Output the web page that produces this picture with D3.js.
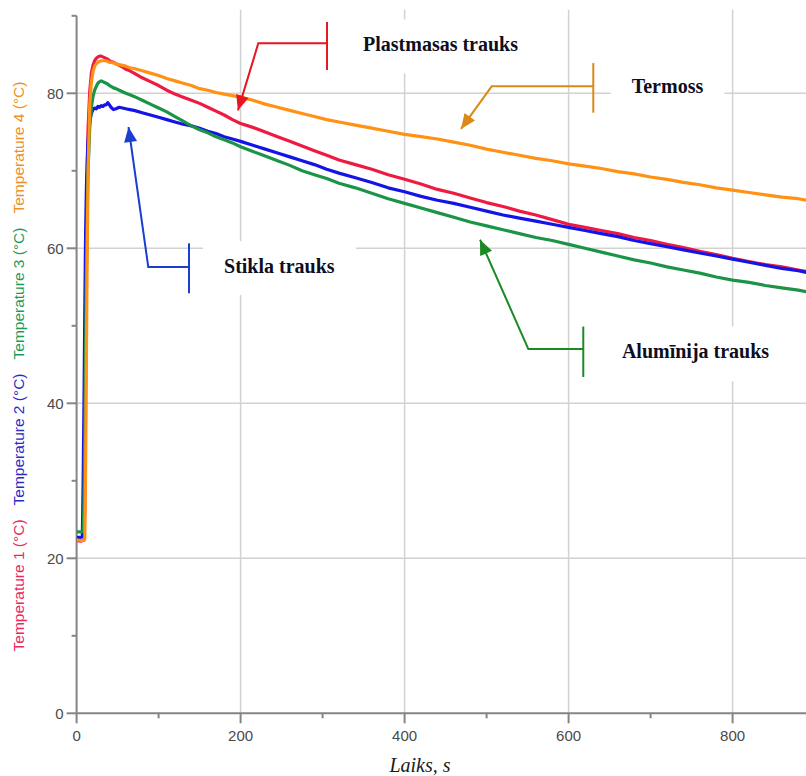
<!DOCTYPE html>
<html>
<head>
<meta charset="utf-8">
<script src="https://cdn.jsdelivr.net/npm/d3@7/dist/d3.min.js"></script>
<style>
  html, body { margin: 0; padding: 0; background: #ffffff; }
  svg { display: block; }
</style>
</head>
<body>
<div id="chart"></div>
<script>
// Sample times, s
const times = [0, 5, 7, 8, 9, 10, 11, 12, 13, 14, 16, 18, 20, 22, 24, 26, 28, 30, 32, 34,
  36, 38, 40, 42, 45, 48, 52, 56, 60, 65, 70, 80, 90, 100, 110, 120, 130, 140, 150, 160,
  170, 180, 190, 200, 215, 230, 245, 260, 275, 290, 305, 320, 340, 360, 380, 400, 420, 440, 460, 480,
  500, 520, 540, 560, 580, 600, 620, 640, 660, 680, 700, 720, 740, 760, 780, 800, 820, 840, 860, 880, 890];

// Temperature 1 (°C) – Plastmasas trauks
const temp1 = [22.3, 22.2, 22.3, 22.3, 22.4, 26, 40, 58, 70, 75.5, 80.2, 82.6, 83.6, 84.2, 84.5, 84.7, 84.8, 84.8, 84.7, 84.6,
  84.5, 84.4, 84.2, 84.1, 84.0, 83.8, 83.6, 83.4, 83.1, 82.9, 82.6, 82.0, 81.5, 81.0, 80.4, 79.9, 79.5, 79.1, 78.7, 78.2,
  77.7, 77.2, 76.6, 76.1, 75.6, 75.0, 74.4, 73.8, 73.2, 72.6, 72.0, 71.4, 70.8, 70.2, 69.5, 68.9, 68.3, 67.6, 67.1, 66.5,
  65.9, 65.4, 64.8, 64.3, 63.7, 63.1, 62.7, 62.3, 61.9, 61.4, 61.0, 60.5, 60.1, 59.6, 59.2, 58.7, 58.3, 57.9, 57.6, 57.2, 57.0];

// Temperature 2 (°C) – Stikla trauks
const temp2 = [22.7, 22.7, 22.8, 30, 40, 52, 62, 68, 71.5, 74, 76.4, 77.4, 77.9, 78.1, 78.0, 78.3, 78.2, 78.4, 78.3, 78.5,
  78.5, 78.8, 78.5, 78.2, 77.9, 78.0, 78.2, 78.1, 78.0, 77.9, 77.8, 77.5, 77.2, 76.9, 76.6, 76.3, 76.0, 75.8, 75.5, 75.1,
  74.8, 74.4, 74.1, 73.8, 73.3, 72.8, 72.3, 71.8, 71.3, 70.8, 70.2, 69.7, 69.1, 68.5, 67.8, 67.3, 66.7, 66.2, 65.8, 65.3,
  64.8, 64.3, 63.9, 63.5, 63.1, 62.7, 62.3, 61.9, 61.5, 61.0, 60.6, 60.2, 59.8, 59.4, 59.0, 58.6, 58.2, 57.8, 57.4, 57.1, 56.9];

// Temperature 3 (°C) – Alumīnija trauks
const temp3 = [23.4, 23.4, 23.4, 23.5, 27, 36, 47, 57, 65, 70, 75.5, 78.2, 79.6, 80.4, 80.9, 81.3, 81.5, 81.6, 81.5, 81.4,
  81.3, 81.2, 81.0, 80.9, 80.7, 80.6, 80.4, 80.2, 80.0, 79.8, 79.6, 79.1, 78.6, 78.1, 77.6, 77.0, 76.4, 75.8, 75.3, 74.9,
  74.4, 74.0, 73.6, 73.1, 72.5, 71.9, 71.3, 70.7, 70.0, 69.5, 69.0, 68.4, 67.8, 67.1, 66.4, 65.8, 65.2, 64.6, 64.0, 63.4,
  62.9, 62.4, 61.9, 61.4, 61.0, 60.5, 60.0, 59.5, 59.0, 58.5, 58.1, 57.6, 57.2, 56.8, 56.3, 55.9, 55.6, 55.2, 54.9, 54.6, 54.4];

// Temperature 4 (°C) – Termoss
const temp4 = [22.4, 22.3, 22.3, 22.3, 22.3, 22.5, 32, 47, 60, 70, 78.5, 81.4, 82.8, 83.5, 83.8, 84.0, 84.1, 84.2, 84.2, 84.2,
  84.2, 84.1, 84.0, 84.0, 83.9, 83.8, 83.7, 83.6, 83.5, 83.3, 83.2, 82.9, 82.6, 82.3, 81.9, 81.6, 81.3, 81.0, 80.6, 80.4,
  80.1, 79.9, 79.7, 79.5, 79.1, 78.6, 78.2, 77.8, 77.4, 77.0, 76.6, 76.3, 75.9, 75.5, 75.1, 74.7, 74.4, 74.1, 73.7, 73.3,
  72.8, 72.4, 72.0, 71.6, 71.3, 70.9, 70.6, 70.3, 69.9, 69.6, 69.2, 68.9, 68.5, 68.2, 67.8, 67.5, 67.2, 66.9, 66.6, 66.4, 66.2];

const seriesNames = ["Temperature 1 (°C)", "Temperature 2 (°C)", "Temperature 3 (°C)", "Temperature 4 (°C)"];
const seriesColors = ["#ee1a42", "#1414e6", "#1c9448", "#ff9214"];
const titleColors = ["#e8285e", "#2c2cc4", "#1f9a5a", "#ef9022"];
const seriesValues = [temp1, temp2, temp3, temp4];

const xMajorTicks = [0, 200, 400, 600, 800];
const xMinorTicks = [100, 300, 500, 700];
const yMajorTicks = [0, 20, 40, 60, 80];
const yMinorTicks = [10, 30, 50, 70, 90];

// Callouts: bar [time, top °C, bottom °C], arm [°C, elbow time], tip [time, °C], text [time, baseline °C]
const calloutLabels = ["Plastmasas trauks", "Termoss", "Stikla trauks", "Alumīnija trauks"];
const calloutColors = ["#e8141e", "#d98a18", "#1a3ecf", "#1b8a22"];
const calloutBars = [[305.4, 89.2, 83.0], [630.1, 83.9, 77.5], [137.1, 60.65, 54.2], [617.9, 49.9, 43.4]];
const calloutArms = [[86.45, 221.6], [80.9, 506.2], [57.6, 87.4], [47.0, 550.9]];
const calloutTips = [[196.8, 77.8], [468.8, 75.4], [63.3, 75.65], [492, 61.1]];
const calloutText = [[349.3, 85.4], [677, 80.0], [179.8, 56.8], [665, 45.8]];

const W = 806, H = 776;
const svg = d3.select("#chart").append("svg").attr("width", W).attr("height", H);

const x = d3.scaleLinear().domain([0, 890]).range([76.6, 806.4]);
const y = d3.scaleLinear().domain([0, 90]).range([713.3, 15.8]);

const plotLeft = x(0), plotRight = W, plotTop = y(90), plotBottom = y(0);

svg.append("defs").append("clipPath").attr("id", "plotclip")
  .append("rect").attr("x", plotLeft).attr("y", 0).attr("width", plotRight - plotLeft).attr("height", plotBottom);

// Grid
const grid = svg.append("g").attr("stroke", "#d2d2d2").attr("stroke-width", 1.5);
grid.selectAll("line.gx").data(xMajorTicks.filter(d => d > 0)).join("line")
  .attr("x1", d => x(d)).attr("x2", d => x(d)).attr("y1", plotTop - 6).attr("y2", plotBottom);
grid.selectAll("line.gy").data(yMajorTicks.filter(d => d > 0)).join("line")
  .attr("x1", plotLeft).attr("x2", plotRight).attr("y1", d => y(d)).attr("y2", d => y(d));

// Callout text with white backing boxes
const labelLayer = svg.append("g");
calloutLabels.forEach((lab, i) => {
  const g = labelLayer.append("g");
  const t = g.append("text")
    .attr("x", x(calloutText[i][0])).attr("y", y(calloutText[i][1]))
    .attr("font-family", "'Liberation Serif', 'Times New Roman', serif")
    .attr("font-weight", "bold").attr("font-size", 20)
    .attr("fill", "#0e0e1e").text(lab);
  const b = t.node().getBBox();
  g.insert("rect", "text")
    .attr("x", b.x - 21).attr("y", b.y - 14)
    .attr("width", b.width + 42).attr("height", b.height + 32)
    .attr("fill", "#ffffff");
});

// Axes
const axisColor = "#858585";
const axes = svg.append("g").attr("stroke", axisColor).attr("stroke-width", 2);
axes.append("line").attr("x1", plotLeft).attr("x2", plotRight).attr("y1", plotBottom).attr("y2", plotBottom);
axes.append("line").attr("x1", plotLeft).attr("x2", plotLeft).attr("y1", plotTop).attr("y2", plotBottom);
axes.selectAll("line.xt").data(xMajorTicks).join("line")
  .attr("x1", d => x(d)).attr("x2", d => x(d)).attr("y1", plotBottom).attr("y2", plotBottom + 10);
axes.selectAll("line.xm").data(xMinorTicks).join("line")
  .attr("x1", d => x(d)).attr("x2", d => x(d)).attr("y1", plotBottom).attr("y2", plotBottom + 5);
axes.selectAll("line.yt").data(yMajorTicks).join("line")
  .attr("x1", plotLeft - 10).attr("x2", plotLeft).attr("y1", d => y(d)).attr("y2", d => y(d));
axes.selectAll("line.ym").data(yMinorTicks).join("line")
  .attr("x1", plotLeft - 5).attr("x2", plotLeft).attr("y1", d => y(d)).attr("y2", d => y(d));

const tickFont = "'Liberation Sans', Arial, sans-serif";
svg.append("g").selectAll("text").data(xMajorTicks).join("text")
  .attr("x", d => x(d)).attr("y", plotBottom + 28)
  .attr("text-anchor", "middle").attr("font-family", tickFont).attr("font-size", 15)
  .attr("fill", "#4a4a4a").text(d => d);
svg.append("g").selectAll("text").data(yMajorTicks).join("text")
  .attr("x", plotLeft - 13).attr("y", d => y(d)).attr("dy", "0.36em")
  .attr("text-anchor", "end").attr("font-family", tickFont).attr("font-size", 15)
  .attr("fill", "#4a4a4a").text(d => d);

// Axis titles
svg.append("text")
  .attr("x", 420).attr("y", 772)
  .attr("text-anchor", "middle")
  .attr("font-family", "'Liberation Serif', 'Times New Roman', serif")
  .attr("font-style", "italic").attr("font-size", 20).attr("fill", "#1a1a1a")
  .text("Laiks, s");

const yTitle = svg.append("text")
  .attr("transform", `translate(24, ${y(44.75)}) rotate(-90)`)
  .attr("text-anchor", "middle")
  .attr("font-family", tickFont).attr("font-size", 15.5);
seriesNames.forEach((name, i) => {
  yTitle.append("tspan").attr("fill", titleColors[i]).attr("dx", i === 0 ? 0 : 14).text(name);
});

// Series lines
const line = d3.line().x(d => x(d[0])).y(d => y(d[1]));
const lines = svg.append("g").attr("clip-path", "url(#plotclip)");
seriesValues.forEach((vals, i) => {
  lines.append("path")
    .datum(times.map((t, k) => [t, vals[k]]))
    .attr("fill", "none").attr("stroke", seriesColors[i])
    .attr("stroke-width", 3.2).attr("stroke-linejoin", "round")
    .attr("d", line);
});

// Callout leaders and arrowheads
const callouts = svg.append("g");
calloutLabels.forEach((lab, i) => {
  const c = calloutColors[i];
  const bar = calloutBars[i], arm = calloutArms[i], tip = calloutTips[i];
  callouts.append("line")
    .attr("x1", x(bar[0])).attr("x2", x(bar[0])).attr("y1", y(bar[1])).attr("y2", y(bar[2]))
    .attr("stroke", c).attr("stroke-width", 2);
  const ex = x(arm[1]), ey = y(arm[0]), tx = x(tip[0]), ty = y(tip[1]);
  callouts.append("polyline")
    .attr("points", `${x(bar[0])},${ey} ${ex},${ey} ${tx},${ty}`)
    .attr("fill", "none").attr("stroke", c).attr("stroke-width", 2);
  const ang = Math.atan2(ty - ey, tx - ex);
  const L = 15, Wd = 6.5;
  const bx = tx - L * Math.cos(ang), by = ty - L * Math.sin(ang);
  const px = -Math.sin(ang) * Wd, py = Math.cos(ang) * Wd;
  callouts.append("polygon")
    .attr("points", `${tx},${ty} ${bx + px},${by + py} ${bx - px},${by - py}`)
    .attr("fill", c);
});
</script>
</body>
</html>
